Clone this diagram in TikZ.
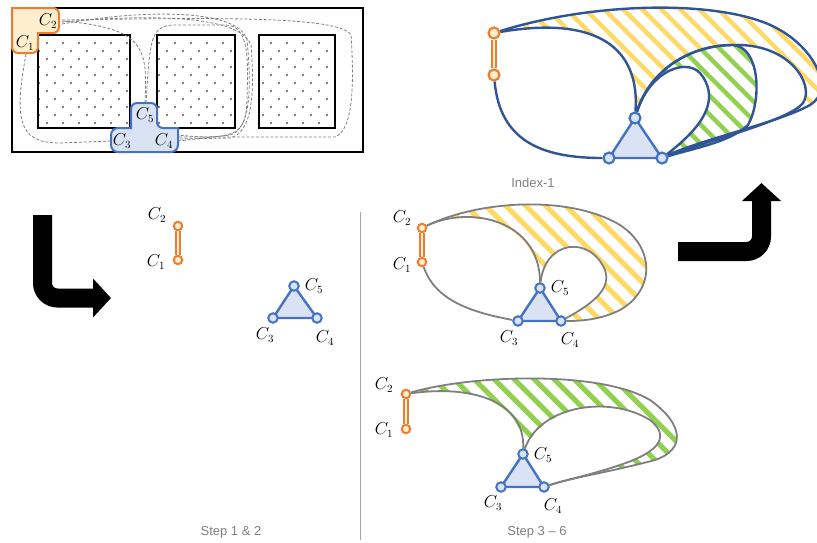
\documentclass[tikz,border=0pt]{standalone}
\usepackage{fontspec}
\newfontfamily\piefont{Liberation Sans}
\usetikzlibrary{arrows.meta}
\usetikzlibrary{backgrounds}
\definecolor{figNaranja}{RGB}{237,125,49}
\definecolor{figNaranjaClaro}{RGB}{255,238,205}
\definecolor{figAzul}{RGB}{68,114,196}
\definecolor{figAzulClaro}{RGB}{218,227,243}
\definecolor{figAzulOscuro}{RGB}{47,85,151}
\definecolor{figAmarillo}{RGB}{255,217,102}
\definecolor{figVerde}{RGB}{146,208,80}
\definecolor{figGris}{RGB}{127,127,127}
\definecolor{figGrisTexto}{RGB}{128,128,128}
\definecolor{figGrisLinea}{RGB}{165,165,165}
\tikzset{
  nodoc/.style={
    circle, draw=figNaranja, fill=figNaranjaClaro, line width=2pt,
    minimum size=8.5pt, inner sep=0pt
  },
  nodot/.style={
    circle, draw=figAzul, fill=figAzulClaro, line width=2pt,
    minimum size=9.5pt, inner sep=0pt
  },
  enlace/.style={draw=figNaranja, line width=1.8pt, double=figNaranjaClaro, double distance=2pt},
  triang/.style={draw=figAzul, fill=figAzulClaro, line width=2.4pt, line join=round},
  etiqueta/.style={font=\fontsize{16}{18}\selectfont, inner sep=0pt},
  pie/.style={font=\piefont\fontsize{13}{15}\selectfont, text=figGrisTexto, inner sep=0pt},
  curvag/.style={draw=figGris, line width=1.8pt},
  curvaa/.style={draw=figAzulOscuro, line width=2.4pt},
  guion/.style={draw=figGris, line width=0.8pt, dash pattern=on 3pt off 1.8pt},
  rayaa/.style={draw=figAmarillo, line width=5pt},
  rayav/.style={draw=figVerde, line width=5pt},
  flechota/.style={line width=19pt, rounded corners=15pt, -{Triangle[length=18pt,width=38pt]}},
  caja/.style={draw=black, line width=2.6pt},
  formac/.style={draw=figNaranja, fill=figNaranjaClaro, line width=2pt},
  format/.style={draw=figAzul, fill=figAzulClaro, line width=2pt}
}

\begin{document}
\begin{tikzpicture}[x=1pt, y=-1pt]
  \useasboundingbox (0,0) rectangle (817,542);

  % plano de arriba a la izquierda
  \draw[caja] (12,8) rectangle (363,152);
  \foreach \x/\w in {38/92, 157/78, 259/76}
    \draw[caja] (\x,35) rectangle ++(\w,93);
  \begin{scope}
    \clip (38,35) rectangle (130,128) (157,35) rectangle (235,128) (259,35) rectangle (335,128);
    \foreach \f in {0,...,10}
      \foreach \c in {0,...,21}
        \fill ({15+16*\c+8*mod(\f,2)},{43+8*\f}) circle (0.9pt);
  \end{scope}
  \coordinate (pc1) at (26,54);
  \coordinate (pc2) at (62,22);
  \coordinate (pc3) at (111,141);
  \coordinate (pc4) at (178,139);
  \coordinate (pc5) at (145,103);
  \draw[guion] (pc1) .. controls (14,120) and (18,143) .. (60,143) -- (pc3);
  \draw[guion] ([yshift=-2pt]pc2) .. controls (150,8) and (240,10) .. (247,40) .. controls (252,90) and (250,130) .. (230,135) -- ([yshift=-2pt]pc4);
  \draw[guion] (pc2) .. controls (150,14) and (240,15) .. (251,45) .. controls (255,95) and (252,133) .. (230,138) -- (pc4);
  \draw[guion] ([yshift=2pt]pc2) .. controls (200,18) and (340,15) .. (351,35) .. controls (354,80) and (354,130) .. (335,137) -- ([yshift=2pt]pc4);
  \draw[guion] (pc5) .. controls (147,50) and (148,28) .. ([yshift=1pt]pc2);
  \draw[guion] ([xshift=1pt]pc5) .. controls (150,40) and (150,25) .. (175,25) -- (225,25) .. controls (250,25) and (248,60) .. (247,100) .. controls (246,130) and (240,142) .. ([yshift=4pt]pc4);
  \filldraw[formac] (12,8) [rounded corners=6pt] -- (59,8) -- (59,33) [sharp corners] -- (38,33) [rounded corners=6pt] -- (38,53) -- (12,53) [sharp corners] -- cycle;
  \filldraw[format] (144,152) [rounded corners=7pt] -- (111,152) -- (111,128) [sharp corners] -- (131,128) [rounded corners=6pt] -- (131,103) -- (157,103) -- (157,128) [sharp corners] -- (178,128) [rounded corners=7pt] -- (178,152) -- cycle;
  \node[etiqueta] (e2) at (48,21) {$C_2$};
  \node[etiqueta] (e1) at (25,43) {$C_1$};
  \node[etiqueta] (e5) at (145,115) {$C_5$};
  \node[etiqueta] (e3) at (122,141) {$C_3$};
  \node[etiqueta] (e4) at (164,141) {$C_4$};

  % Index-1
  \node[nodoc, minimum size=11pt, line width=2.2pt] (b2) at (494,33) {};
  \node[nodoc, minimum size=11pt, line width=2.2pt] (b1) at (494,75) {};
  \node[nodot, minimum size=11pt, line width=2.2pt] (b5) at (635,118) {};
  \node[nodot, minimum size=11pt, line width=2.2pt] (b3) at (609,158) {};
  \node[nodot, minimum size=11pt, line width=2.2pt] (b4) at (662,158) {};
  \draw[enlace, line width=2pt, double distance=2.6pt] (b1) -- (b2);
  \begin{scope}[on background layer]
    \begin{scope}
      \clip (b2.center) .. controls (600,0) and (730,0) .. (780,30) .. controls (815,50) and (835,90) .. (810,105) .. controls (780,122) and (700,140) .. (b4.center) .. controls (710,140) and (790,120) .. (803,103) .. controls (815,85) and (790,43) .. (733,45) .. controls (690,45) and (650,70) .. (b5.center) .. controls (640,50) and (600,15) .. (b2.center) -- cycle;
      \foreach \c in {300,319,...,840}
        \draw[rayaa, line width=4.5pt] (\c,-10) -- ++(190,190);
    \end{scope}
    \begin{scope}
      \clip (b5.center) .. controls (650,70) and (690,45) .. (733,45) .. controls (760,47) and (762,100) .. (748,125) .. controls (730,142) and (695,148) .. (b4.center) .. controls (705,125) and (718,100) .. (703,77) .. controls (690,55) and (650,70) .. (b5.center) -- cycle;
      \foreach \c in {300,319,...,840}
        \draw[rayav, line width=4.5pt] (\c,-10) -- ++(190,190);
    \end{scope}
    \filldraw[triang] (b5.center) -- (b3.center) -- (b4.center) -- cycle;
  \end{scope}
  \draw[curvaa] (b1) .. controls (500,140) and (540,158) .. (b3);
  \draw[curvaa] (b2) .. controls (600,15) and (640,50) .. (b5);
  \draw[curvaa] (b2) .. controls (600,0) and (730,0) .. (780,30) .. controls (815,50) and (835,90) .. (810,105) .. controls (780,122) and (700,140) .. (b4);
  \draw[curvaa] (b5) .. controls (650,70) and (690,45) .. (733,45) .. controls (790,43) and (815,85) .. (803,103) .. controls (790,120) and (710,140) .. (b4);
  \draw[curvaa] (b5) .. controls (650,70) and (690,45) .. (733,45) .. controls (760,47) and (762,100) .. (748,125) .. controls (730,142) and (695,148) .. (b4);
  \draw[curvaa] (b5) .. controls (650,70) and (690,55) .. (703,77) .. controls (718,100) and (705,125) .. (b4);
  \node[pie] (t0) at (533,183) {Index-1};

  % flechas negras
  \coordinate (fi0) at (42.5,215);
  \coordinate (fi1) at (111,298);
  \draw[flechota] (fi0) |- (fi1);
  \coordinate (fd0) at (678,251.5);
  \coordinate (fd1) at (761.5,183);
  \draw[flechota] (fd0) -| (fd1);

  % paso 1 y 2
  \node[nodoc] (a2) at (178,226) {};
  \node[nodoc] (a1) at (178,260) {};
  \node[nodot] (a5) at (294,286) {};
  \node[nodot] (a3) at (273,318) {};
  \node[nodot] (a4) at (317,318) {};
  \draw[enlace] (a1) -- (a2);
  \begin{scope}[on background layer]
    \filldraw[triang] (a5.center) -- (a3.center) -- (a4.center) -- cycle;
  \end{scope}
  \node[etiqueta] (a2l) at (157,215) {$C_2$};
  \node[etiqueta] (a1l) at (156,262) {$C_1$};
  \node[etiqueta] (a5l) at (314,286) {$C_5$};
  \node[etiqueta] (a3l) at (265,335) {$C_3$};
  \node[etiqueta] (a4l) at (325,338) {$C_4$};
  \node[pie] (t1) at (231,532) {Step 1 \& 2};

  \draw[figGrisLinea, line width=1pt] (360,212) -- (360,540);

  % paso 3 a 6, arriba
  \node[nodoc] (c2) at (422,228) {};
  \node[nodoc] (c1) at (422,262) {};
  \node[nodot] (c5) at (540,288) {};
  \node[nodot] (c3) at (518,321) {};
  \node[nodot] (c4) at (561,321) {};
  \draw[enlace] (c1) -- (c2);
  \begin{scope}[on background layer]
    \begin{scope}
      \clip (c2.center) .. controls (480,200) and (570,195) .. (620,225) .. controls (655,248) and (655,290) .. (620,310) .. controls (600,320) and (580,321) .. (c4.center) .. controls (590,305) and (612,290) .. (605,270) .. controls (590,235) and (545,240) .. (c5.center) .. controls (540,220) and (470,205) .. (c2.center) -- cycle;
      \foreach \c in {270,290,...,680}
        \draw[rayaa] (\c,190) -- ++(150,150);
    \end{scope}
    \filldraw[triang] (c5.center) -- (c3.center) -- (c4.center) -- cycle;
  \end{scope}
  \draw[curvag] (c1) .. controls (435,300) and (470,312) .. (c3);
  \draw[curvag] (c2) .. controls (480,200) and (570,195) .. (620,225) .. controls (655,248) and (655,290) .. (620,310) .. controls (600,320) and (580,321) .. (c4);
  \draw[curvag] (c2) .. controls (470,205) and (540,220) .. (c5);
  \draw[curvag] (c5) .. controls (545,240) and (590,235) .. (605,270) .. controls (612,290) and (590,305) .. (c4);
  \node[etiqueta] (c2l) at (402,218) {$C_2$};
  \node[etiqueta] (c1l) at (402,265) {$C_1$};
  \node[etiqueta] (c5l) at (560,288) {$C_5$};
  \node[etiqueta] (c3l) at (509,338) {$C_3$};
  \node[etiqueta] (c4l) at (570,340) {$C_4$};

  % paso 3 a 6, abajo
  \node[nodoc] (d2) at (406,394) {};
  \node[nodoc] (d1) at (406,429) {};
  \node[nodot] (d5) at (523,454) {};
  \node[nodot] (d3) at (501,487) {};
  \node[nodot] (d4) at (544,487) {};
  \draw[enlace] (d1) -- (d2);
  \begin{scope}[on background layer]
    \begin{scope}
      \clip (d2.center) .. controls (470,375) and (600,370) .. (650,400) .. controls (685,425) and (685,450) .. (655,460) .. controls (610,472) and (570,478) .. (d4.center) .. controls (565,480) and (590,475) .. (620,465) .. controls (650,455) and (675,440) .. (650,420) .. controls (610,395) and (540,405) .. (d5.center) .. controls (525,400) and (470,385) .. (d2.center) -- cycle;
      \foreach \c in {260,280,...,700}
        \draw[rayav] (\c,365) -- ++(130,130);
    \end{scope}
    \filldraw[triang] (d5.center) -- (d3.center) -- (d4.center) -- cycle;
  \end{scope}
  \draw[curvag] (d2) .. controls (470,375) and (600,370) .. (650,400) .. controls (685,425) and (685,450) .. (655,460) .. controls (610,472) and (570,478) .. (d4);
  \draw[curvag] (d2) .. controls (470,385) and (525,400) .. (d5);
  \draw[curvag] (d5) .. controls (540,405) and (610,395) .. (650,420) .. controls (675,440) and (650,455) .. (620,465) .. controls (590,475) and (565,480) .. (d4);
  \node[etiqueta] (d2l) at (384,385) {$C_2$};
  \node[etiqueta] (d1l) at (384,430) {$C_1$};
  \node[etiqueta] (d5l) at (543,455) {$C_5$};
  \node[etiqueta] (d3l) at (493,503) {$C_3$};
  \node[etiqueta] (d4l) at (553,506) {$C_4$};
  \node[pie] (t2) at (537,532) {Step 3 – 6};
\end{tikzpicture}
\end{document}
